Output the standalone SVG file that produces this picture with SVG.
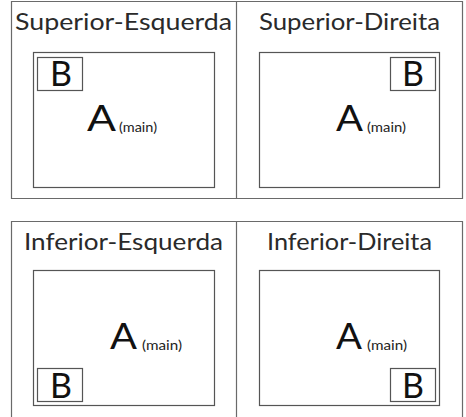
<svg xmlns="http://www.w3.org/2000/svg" width="466" height="417" viewBox="0 0 466 417">
<style>
.frame{fill:none;stroke:#6a6a6a;stroke-width:1.2}
.inner{fill:none;stroke:#555;stroke-width:1.2}
.bbox{fill:#fff;stroke:#555;stroke-width:1.2}
.title{font-family:"Lato","Open Sans",sans-serif;font-weight:400;font-size:23px;fill:#2a2a2a}
.big{font-family:"Lato","Open Sans",sans-serif;font-size:36px;fill:#111}
.b{font-family:"Lato","Open Sans",sans-serif;font-size:34px;fill:#111}
.sm{font-family:"Lato","Open Sans",sans-serif;font-size:13px;fill:#222}
</style>
<rect width="466" height="417" fill="#fff"/>
<g id="frames">
<path class="frame" d="M11.5,1.5 H462.5 V198.5 H11.5 Z M236.5,1.5 V198.5"/>
<path class="frame" d="M11.5,417 V221.5 H462.5 V417 M236.5,221.5 V417"/>
</g>
<g id="superior-esquerda">
<text class="title" x="15" y="30" textLength="217" lengthAdjust="spacingAndGlyphs">Superior-Esquerda</text>
<rect class="inner" x="33.5" y="52.5" width="181" height="135"/>
<rect class="bbox" x="37.5" y="57.5" width="45" height="33"/>
<text class="b" x="61" y="86" text-anchor="middle">B</text>
<text class="big" x="87" y="131" textLength="29" lengthAdjust="spacingAndGlyphs">A</text>
<text class="sm" x="119" y="132" textLength="38" lengthAdjust="spacingAndGlyphs">(main)</text>
</g>
<g id="superior-direita">
<text class="title" x="259" y="30" textLength="181" lengthAdjust="spacingAndGlyphs">Superior-Direita</text>
<rect class="inner" x="259.5" y="52.5" width="180" height="135"/>
<rect class="bbox" x="390.5" y="57.5" width="45" height="33"/>
<text class="b" x="413" y="86" text-anchor="middle">B</text>
<text class="big" x="336" y="131" textLength="27" lengthAdjust="spacingAndGlyphs">A</text>
<text class="sm" x="367" y="132" textLength="39" lengthAdjust="spacingAndGlyphs">(main)</text>
</g>
<g id="inferior-esquerda">
<text class="title" x="24" y="250" textLength="199" lengthAdjust="spacingAndGlyphs">Inferior-Esquerda</text>
<rect class="inner" x="33.5" y="270.5" width="181" height="135"/>
<rect class="bbox" x="37.5" y="368.5" width="45" height="33"/>
<text class="b" x="61" y="398" text-anchor="middle">B</text>
<text class="big" x="110" y="349" textLength="27" lengthAdjust="spacingAndGlyphs">A</text>
<text class="sm" x="142" y="350" textLength="40" lengthAdjust="spacingAndGlyphs">(main)</text>
</g>
<g id="inferior-direita">
<text class="title" x="267" y="250" textLength="165" lengthAdjust="spacingAndGlyphs">Inferior-Direita</text>
<rect class="inner" x="259.5" y="270.5" width="180" height="135"/>
<rect class="bbox" x="390.5" y="368.5" width="45" height="33"/>
<text class="b" x="413" y="398" text-anchor="middle">B</text>
<text class="big" x="336" y="349" textLength="26" lengthAdjust="spacingAndGlyphs">A</text>
<text class="sm" x="367" y="350" textLength="40" lengthAdjust="spacingAndGlyphs">(main)</text>
</g>
<g id="connectors"/>
</svg>
